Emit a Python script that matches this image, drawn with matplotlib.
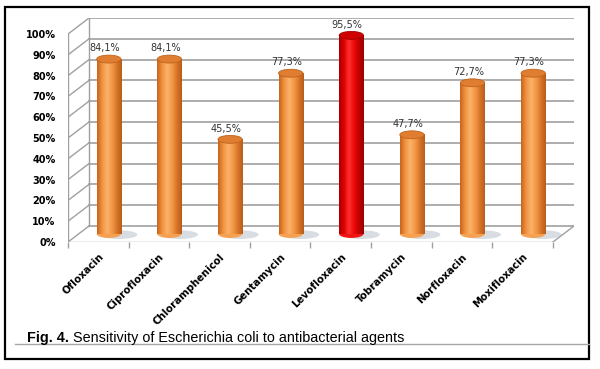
import numpy as np
import matplotlib
matplotlib.use("Agg")
import matplotlib.pyplot as plt
from matplotlib.patches import Ellipse, Rectangle
from matplotlib.colors import LinearSegmentedColormap
from matplotlib.lines import Line2D

# ============================
# Data
# ============================
drugs = ["Ofloxacin", "Ciprofloxacin", "Chloramphenicol", "Gentamycin",
         "Levofloxacin", "Tobramycin", "Norfloxacin", "Moxifloxacin"]
sensitivity = [84.1, 84.1, 45.5, 77.3, 95.5, 47.7, 72.7, 77.3]
highlight = "Levofloxacin"
y_ticks = [0, 10, 20, 30, 40, 50, 60, 70, 80, 90, 100]

# ============================
# Pseudo 3D settings
# ============================
dx = 0.347      # depth offset in category units
dy = 7.7        # depth offset in percent units
bar_w = 0.40
cap_h = 3.8
grid_col = "#a0a0a0"

orange = LinearSegmentedColormap.from_list(
    "orange", ["#c8661c", "#f0913f", "#fbb26c", "#f49a48", "#d8762a", "#b85d18"])
red = LinearSegmentedColormap.from_list(
    "red", ["#a80000", "#e00000", "#ff3030", "#ee0a0a", "#c40000", "#9a0000"])

fig = plt.figure(figsize=(6, 3.69), dpi=100)
ax = fig.add_axes([68 / 600, (369 - 242) / 369, 506 / 600, 224 / 369])
n = len(drugs)
ax.set_xlim(-0.5, n - 0.5 + dx)
ax.set_ylim(0, 100 + dy)
for s in ax.spines.values():
    s.set_visible(False)

# back wall gridlines, side wall diagonals
for v in y_ticks:
    ax.plot([-0.5 + dx, n - 0.5 + dx], [v + dy, v + dy], color=grid_col, lw=1.2, zorder=1)
    ax.plot([-0.5, -0.5 + dx], [v, v + dy], color=grid_col, lw=1.0, zorder=1)
ax.plot([-0.5 + dx, -0.5 + dx], [dy, 100 + dy], color=grid_col, lw=1.0, zorder=1)
ax.plot([-0.5, -0.5], [0, 100], color=grid_col, lw=1.0, zorder=1)
# floor front and right edge
ax.plot([-0.5, n - 0.5], [0, 0], color=grid_col, lw=1.0, zorder=1)
ax.plot([n - 0.5, n - 0.5 + dx], [0, dy], color=grid_col, lw=1.0, zorder=1)

# cylinders
grad = np.linspace(0, 1, 64).reshape(1, -1)
for i, (name, val) in enumerate(zip(drugs, sensitivity)):
    cmap = red if name == highlight else orange
    xc = i + dx / 2
    base = dy / 2
    top = val + dy / 2
    # floor shadow
    ax.add_patch(Ellipse((xc + 0.16, base - 0.3), 0.62, 4.2, color="#aab3c2",
                         alpha=0.45, lw=0, zorder=2))
    ax.add_patch(Ellipse((xc, base), bar_w, cap_h, color=cmap(0.55), lw=0, zorder=3))
    ax.imshow(grad, cmap=cmap, aspect="auto", interpolation="bilinear",
              extent=[xc - bar_w / 2, xc + bar_w / 2, base, top], zorder=4)
    ax.add_patch(Ellipse((xc, top), bar_w, cap_h, facecolor=cmap(0.75),
                         edgecolor=cmap(0.95), lw=0.6, zorder=5))
    ax.text(xc - 0.07, top + 5.2, f"{val:.1f}%".replace(".", ","),
            ha="center", va="center", fontsize=7, color="#333333", zorder=6)

ax.set_xlim(-0.5, n - 0.5 + dx)
ax.set_ylim(0, 100 + dy)

# axes ticks and labels
ax.set_xticks(np.arange(n))
ax.set_xticklabels(drugs, rotation=45, ha="right", va="top",
                   rotation_mode="anchor", fontsize=7.3, fontweight="bold")
ax.set_xticks(np.arange(n + 1) - 0.5, minor=True)
ax.tick_params(axis="x", which="major", length=0, pad=7)
ax.tick_params(axis="x", which="minor", length=4, color=grid_col, width=1)
ax.set_yticks(y_ticks)
ax.set_yticklabels([f"{v}%" for v in y_ticks], fontsize=7, fontweight="bold")
ax.tick_params(axis="y", length=0, pad=9)

# caption and frame
fig.text(27 / 600, 1 - 338 / 369, "Fig. 4.", fontsize=10.4, fontweight="bold",
         family="Liberation Sans", va="center", ha="left")
fig.text(73 / 600, 1 - 338 / 369, "Sensitivity of Escherichia coli to antibacterial agents",
         fontsize=10.4, family="Liberation Sans", va="center", ha="left")
fig.add_artist(Line2D([15 / 600, 589 / 600], [1 - 344 / 369, 1 - 344 / 369],
                      color="#a8a8a8", lw=1, transform=fig.transFigure))
fig.add_artist(Rectangle((5 / 600, 1 - 359 / 369), 584 / 600, 352 / 369,
                         fill=False, edgecolor="black", lw=1.6,
                         transform=fig.transFigure))

fig.savefig("out.png", dpi=100)
